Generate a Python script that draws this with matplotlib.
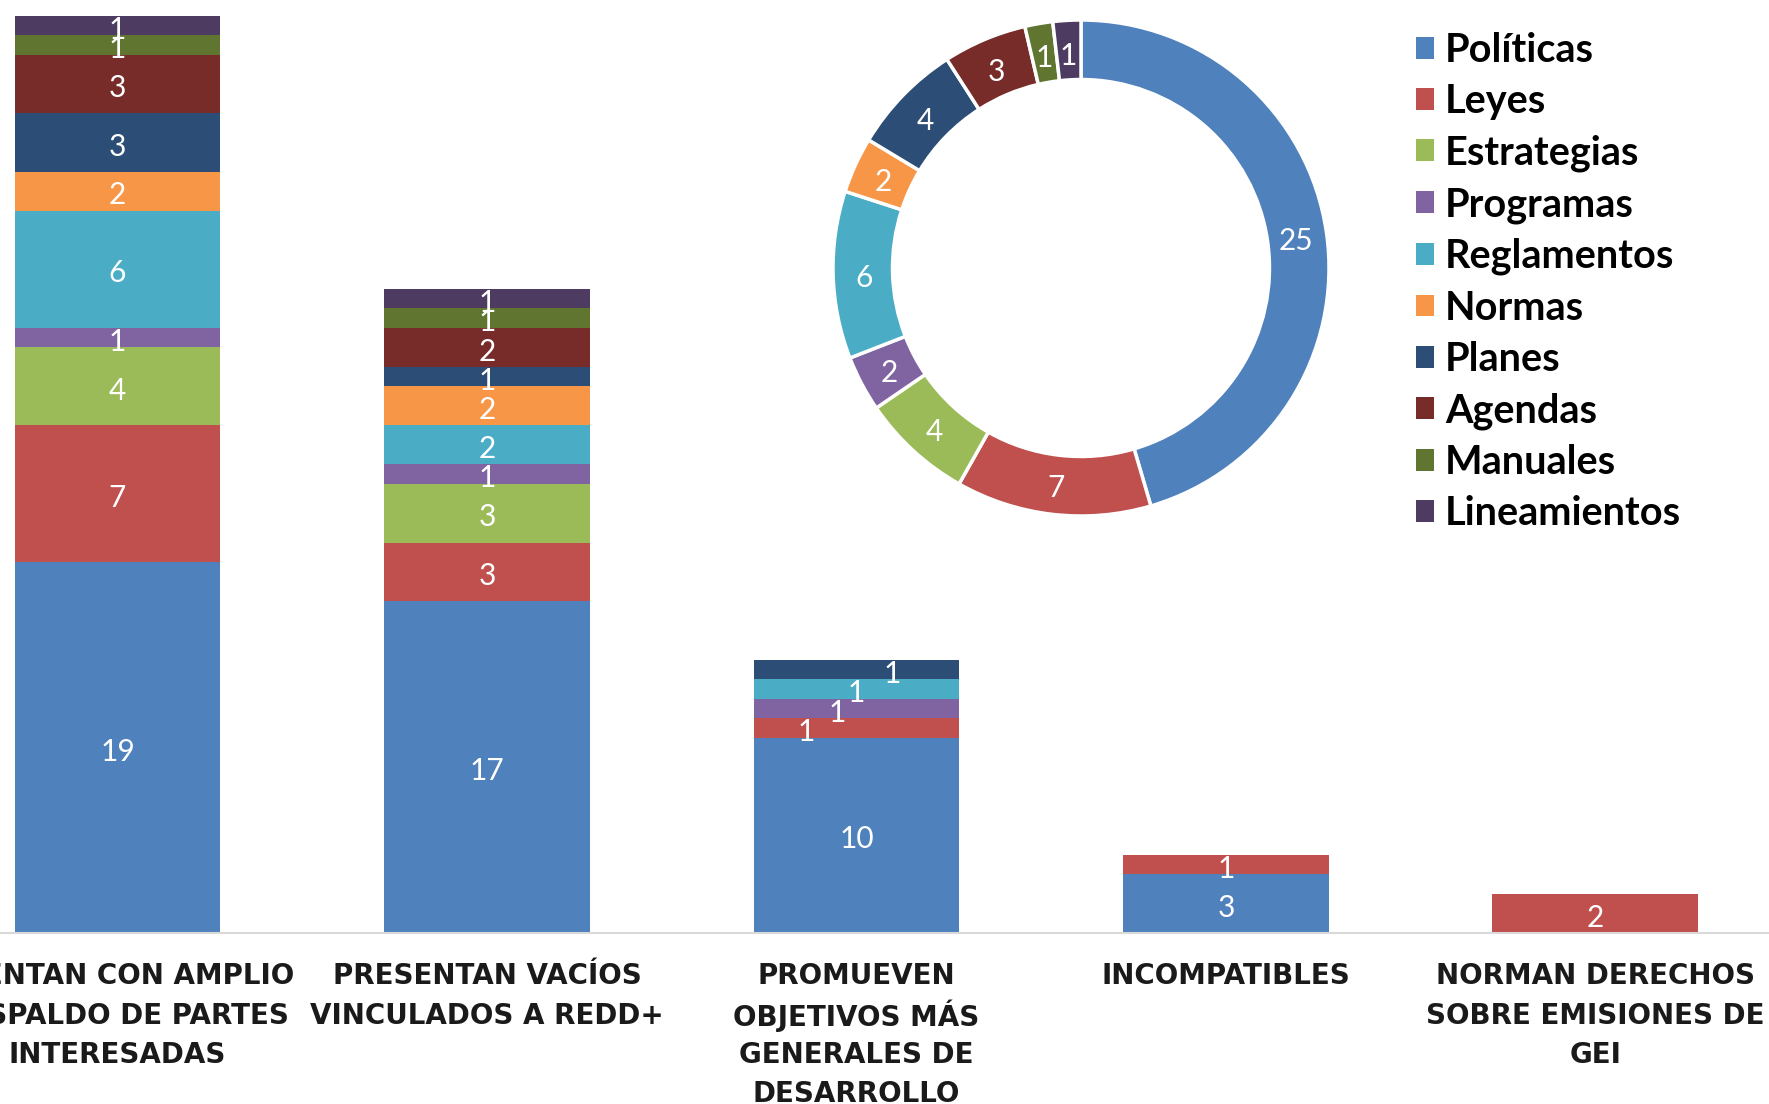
import matplotlib.pyplot as plt
import numpy as np
from matplotlib.patches import Patch
from matplotlib.transforms import blended_transform_factory

# categorias del eje x
categories = [
    "CUENTAN CON AMPLIO\nRESPALDO DE PARTES\nINTERESADAS",
    "PRESENTAN VACÍOS\nVINCULADOS A REDD+",
    "PROMUEVEN\nOBJETIVOS MÁS\nGENERALES DE\nDESARROLLO",
    "INCOMPATIBLES",
    "NORMAN DERECHOS\nSOBRE EMISIONES DE\nGEI",
]

series_names = ["Políticas", "Leyes", "Estrategias", "Programas", "Reglamentos",
                "Normas", "Planes", "Agendas", "Manuales", "Lineamientos"]

politicas = [19, 17, 10, 3, 0]
leyes = [7, 3, 1, 1, 2]
estrategias = [4, 3, 0, 0, 0]
programas = [1, 1, 1, 0, 0]
reglamentos = [6, 2, 1, 0, 0]
normas = [2, 2, 0, 0, 0]
planes = [3, 1, 1, 0, 0]
agendas = [3, 2, 0, 0, 0]
manuales = [1, 1, 0, 0, 0]
lineamientos = [1, 1, 0, 0, 0]

# totales por tipo de instrumento (dona)
donut_totals = [25, 7, 4, 2, 6, 2, 4, 3, 1, 1]

colors = ["#4F81BD", "#C0504D", "#9BBB59", "#8064A2", "#4BACC6",
          "#F79646", "#2C4D75", "#772C2A", "#5F7530", "#4D3B62"]

series = [politicas, leyes, estrategias, programas, reglamentos,
          normas, planes, agendas, manuales, lineamientos]

# Excel moved a few overlapping labels sideways in the third bar (points)
label_nudge = {(1, 2): -36, (3, 2): -14, (6, 2): 26}

num_font = ["Lato", "DejaVu Sans"]

W, H = 1769, 1104
fig = plt.figure(figsize=(W / 100, H / 100), dpi=100)
ax = fig.add_axes([0, 0.155, 1, 0.845])

x = list(range(len(categories)))
bottom = [0] * len(categories)
for i, (vals, col) in enumerate(zip(series, colors)):
    ax.bar(x, vals, width=0.557, bottom=bottom, color=col, edgecolor="none")
    for j, v in enumerate(vals):
        if v > 0:
            ax.annotate(str(v), (x[j], bottom[j] + v / 2),
                        xytext=(label_nudge.get((i, j), 0), -3),
                        textcoords="offset points", ha="center", va="center",
                        color="white", fontsize=21.5, family=num_font)
    bottom = [b + v for b, v in zip(bottom, vals)]

ax.set_xlim(-0.318, 4.47)
ax.set_ylim(0, 47.8)
ax.set_yticks([])
ax.set_xticks(x, [""] * len(x))
ax.tick_params(axis="x", length=0)
for s in ["top", "left", "right"]:
    ax.spines[s].set_visible(False)
ax.spines["bottom"].set_color("#D9D9D9")
ax.spines["bottom"].set_linewidth(1.5)

# category labels drawn line by line so the accents don't push lines apart
trans = blended_transform_factory(ax.transData, fig.transFigure)
for xi, lab in zip(x, categories):
    for k, line in enumerate(lab.split("\n")):
        ax.text(xi, 1 - (976 + 39.5 * k) / H, line, transform=trans, ha="center",
                va="center", fontsize=20, fontweight="bold", color="#1a1a1a",
                clip_on=False)

# dona
cx, cy, r = 1081, 268, 248
ax2 = fig.add_axes([(cx - r) / W, 1 - (cy + r) / H, 2 * r / W, 2 * r / H])
ax2.pie(donut_totals, colors=colors, startangle=90, counterclock=False, radius=1,
        wedgeprops=dict(width=0.24, edgecolor="white", linewidth=2.5))
total = sum(donut_totals)
ang = 90.0
for v in donut_totals:
    mid = np.deg2rad(ang - v / total * 180)
    ax2.annotate(str(v), (0.875 * np.cos(mid), 0.875 * np.sin(mid)), xytext=(0, -3),
                 textcoords="offset points", ha="center", va="center",
                 color="white", fontsize=21.5, family=num_font)
    ang -= v / total * 360
ax2.set_xlim(-1, 1)
ax2.set_ylim(-1, 1)
ax2.set_aspect("equal")
ax2.axis("off")

handles = [Patch(facecolor=c, edgecolor="none") for c in colors]
fig.legend(handles, series_names, loc="upper left", bbox_to_anchor=(1400 / W, 1 - 16 / H),
           frameon=False, prop=dict(family=["Lato", "DejaVu Sans"], weight="bold", size=28.5),
           handlelength=0.46, handleheight=0.46, handletextpad=0.28, labelspacing=0.36,
           borderaxespad=0)

fig.savefig("out.png", dpi=100)
